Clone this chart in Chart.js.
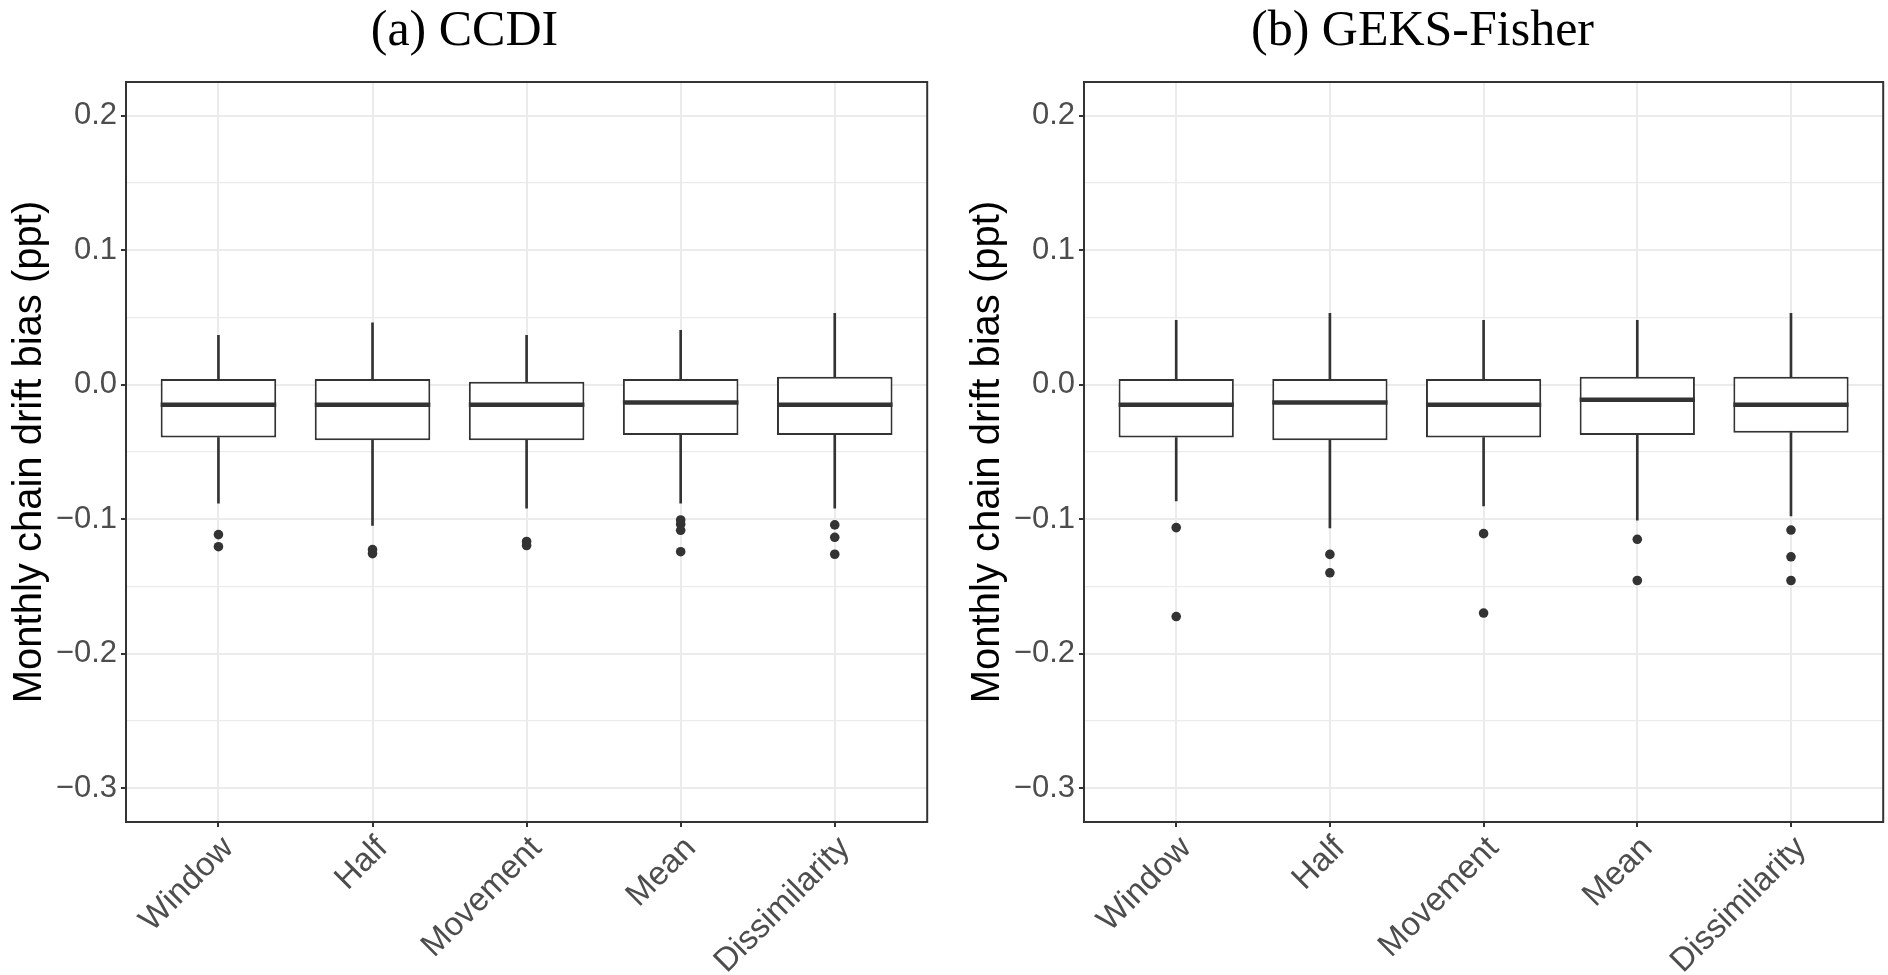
<!DOCTYPE html>
<html><head><meta charset="utf-8">
<script src="https://cdn.jsdelivr.net/npm/chart.js@4.4.1/dist/chart.umd.min.js"></script>
<style>
html,body{margin:0;padding:0;background:#fff;overflow:hidden;}
#wrap{position:relative;width:1888px;height:975px;background:#fff;}
canvas{position:absolute;top:0;}
</style></head><body>
<div id="wrap">
<canvas id="chartA" width="932" height="975" style="left:0px"></canvas>
<canvas id="chartB" width="930" height="975" style="left:958px"></canvas>
</div>
<script>
// ---- data ----
const categories = ['Window', 'Half', 'Movement', 'Mean', 'Dissimilarity'];
const yMajorTicks = [-0.3, -0.2, -0.1, 0.0, 0.1, 0.2];
const yMinorTicks = [-0.25, -0.15, -0.05, 0.05, 0.15];

// (a) CCDI
const ccdiWhiskerLow  = [-0.0880, -0.1045, -0.0918, -0.0880, -0.0918];
const ccdiQ1          = [-0.0393, -0.0413, -0.0413, -0.0373, -0.0373];
const ccdiMedian      = [-0.0149, -0.0149, -0.0149, -0.0132, -0.0149];
const ccdiQ3          = [0.0042, 0.0042, 0.0022, 0.0042, 0.0060];
const ccdiWhiskerHigh = [0.0368, 0.0460, 0.0368, 0.0405, 0.0530];
const ccdiOutliers    = [[-0.1114, -0.1204], [-0.1225, -0.1255], [-0.1165, -0.1195], [-0.1005, -0.1037, -0.1082, -0.1241], [-0.1042, -0.1134, -0.1260]];

// (b) GEKS-Fisher
const geksWhiskerLow  = [-0.0863, -0.1065, -0.0900, -0.1007, -0.0975];
const geksQ1          = [-0.0393, -0.0413, -0.0393, -0.0373, -0.0356];
const geksMedian      = [-0.0149, -0.0132, -0.0149, -0.0112, -0.0149];
const geksQ3          = [0.0042, 0.0042, 0.0042, 0.0060, 0.0060];
const geksWhiskerHigh = [0.0478, 0.0530, 0.0478, 0.0478, 0.0530];
const geksOutliers    = [[-0.1062, -0.1723], [-0.1261, -0.1398], [-0.1107, -0.1697], [-0.1149, -0.1455], [-0.1080, -0.1279, -0.1455]];

// ---- drawing ----
const DARK = '#333333';
const GRID = '#EBEBEB';
const TICKTXT = '#4D4D4D';
const allYTicks = yMajorTicks.concat(yMinorTicks).sort((a, b) => a - b);
const isMajor = v => yMajorTicks.some(m => Math.abs(m - v) < 1e-9);
const fmt = v => { const s = Math.abs(v).toFixed(1); return v < -1e-9 ? '\u2212' + s : s; };

const panelBorder = {
  id: 'panelBorder',
  afterDatasetsDraw(chart) {
    const { ctx, chartArea: a } = chart;
    ctx.save();
    ctx.strokeStyle = DARK;
    ctx.lineWidth = 2;
    ctx.strokeRect(a.left, a.top, a.right - a.left, a.bottom - a.top);
    ctx.restore();
  }
};

function halfBox(ctx) {
  const s = ctx.chart.scales.x;
  return Math.abs(s.getPixelForValue(1.375) - s.getPixelForValue(1));
}

function buildChart(id, titleText, low, q1, med, q3, high, outliers, rightPad) {
  const pos = categories.map((c, i) => i + 1);
  return new Chart(document.getElementById(id), {
    type: 'bar',
    data: {
      datasets: [
        {
          type: 'line', label: 'median', showLine: false,
          data: pos.map((x, i) => ({ x, y: med[i] })),
          pointStyle: 'line', pointRadius: halfBox, pointHoverRadius: halfBox,
          pointBorderWidth: 4.5, pointBorderColor: DARK, pointBackgroundColor: DARK
        },
        {
          type: 'line', label: 'outliers', showLine: false,
          data: outliers.flatMap((arr, i) => arr.map(v => ({ x: pos[i], y: v }))),
          pointStyle: 'circle', pointRadius: 4.8, pointHoverRadius: 4.8,
          pointBorderWidth: 0, pointBackgroundColor: DARK, pointBorderColor: DARK
        },
        {
          type: 'bar', label: 'box', grouped: false,
          data: pos.map((x, i) => ({ x, y: [q1[i], q3[i]] })),
          backgroundColor: '#FFFFFF', borderColor: DARK, borderWidth: 2, borderSkipped: false,
          barPercentage: 0.75, categoryPercentage: 1
        },
        {
          type: 'bar', label: 'upper whisker', grouped: false,
          data: pos.map((x, i) => ({ x, y: [q3[i], high[i]] })),
          backgroundColor: DARK, borderWidth: 0, barThickness: 2
        },
        {
          type: 'bar', label: 'lower whisker', grouped: false,
          data: pos.map((x, i) => ({ x, y: [low[i], q1[i]] })),
          backgroundColor: DARK, borderWidth: 0, barThickness: 2
        }
      ]
    },
    options: {
      responsive: false,
      animation: false,
      devicePixelRatio: 1,
      layout: { padding: { left: 0, right: rightPad, top: 0, bottom: 0 } },
      plugins: {
        legend: { display: false },
        tooltip: { enabled: false },
        title: {
          display: true, text: titleText, color: '#000',
          font: { family: 'Liberation Serif', size: 50, weight: 'normal', lineHeight: 1.2 },
          padding: { top: 2, bottom: 20 }
        }
      },
      scales: {
        x: {
          type: 'linear', min: 0.4, max: 5.6, offset: false,
          afterBuildTicks: s => { s.ticks = pos.map(v => ({ value: v })); },
          afterFit: s => { s.height = 153; },
          border: { display: false },
          grid: { offset: false, color: GRID, lineWidth: 2, tickColor: DARK, tickLength: 5, tickWidth: 2 },
          ticks: {
            autoSkip: false, minRotation: 45, maxRotation: 45, padding: 2, labelOffset: 10,
            color: TICKTXT, font: { family: 'Liberation Sans', size: 33 },
            callback: v => categories[Math.round(v) - 1]
          }
        },
        y: {
          type: 'linear', min: -0.325, max: 0.225,
          afterBuildTicks: s => { s.ticks = allYTicks.map(v => ({ value: v })); },
          afterFit: s => { s.width = 126; },
          border: { display: false },
          grid: {
            color: GRID,
            lineWidth: c => (c.tick && isMajor(c.tick.value)) ? 2 : 1.3,
            tickColor: c => (c.tick && isMajor(c.tick.value)) ? DARK : 'rgba(0,0,0,0)',
            tickLength: 5, tickWidth: 2
          },
          ticks: {
            autoSkip: false, padding: 4,
            color: TICKTXT, font: { family: 'Liberation Sans', size: 31 },
            callback: v => isMajor(v) ? fmt(v) : ''
          },
          title: {
            display: true, text: 'Monthly chain drift bias (ppt)', color: '#000',
            font: { family: 'Liberation Sans', size: 40, lineHeight: 1.2 },
            padding: { top: 6, bottom: 0 }
          }
        }
      }
    },
    plugins: [panelBorder]
  });
}

buildChart('chartA', '(a) CCDI', ccdiWhiskerLow, ccdiQ1, ccdiMedian, ccdiQ3, ccdiWhiskerHigh, ccdiOutliers, 3);
buildChart('chartB', '(b) GEKS-Fisher', geksWhiskerLow, geksQ1, geksMedian, geksQ3, geksWhiskerHigh, geksOutliers, 1);
</script>
</body></html>
